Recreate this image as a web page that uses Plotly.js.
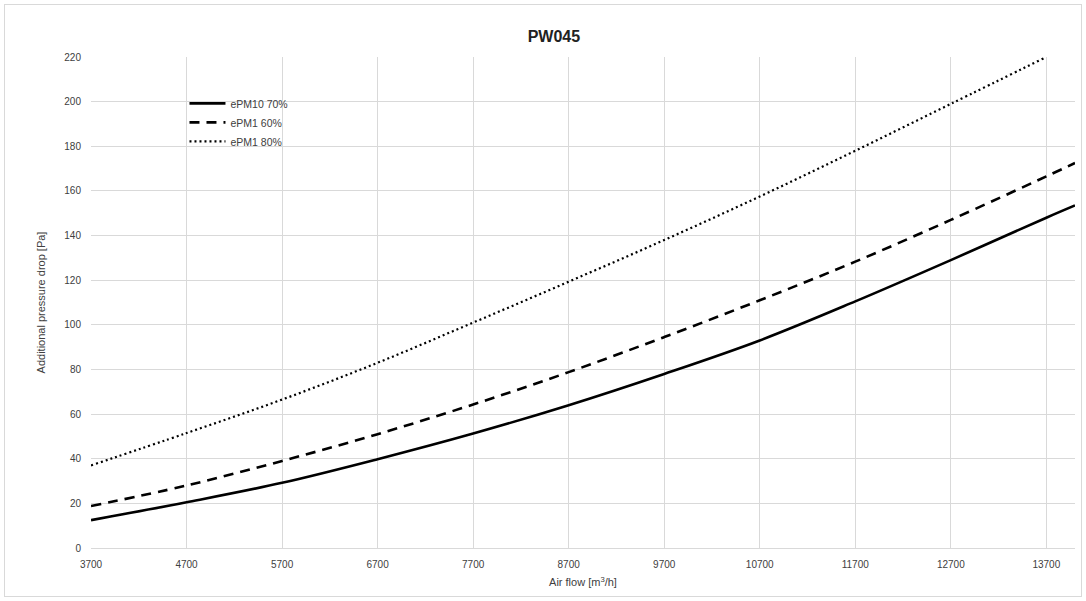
<!DOCTYPE html>
<html>
<head>
<meta charset="utf-8">
<script src="https://cdn.plot.ly/plotly-3.0.1.min.js"></script>
<style>
  html, body { margin: 0; padding: 0; background: #fff; }
  #chart { position: absolute; left: 0; top: 0; width: 1086px; height: 601px; }
  #frame { position: absolute; left: 4px; top: 4px; width: 1076px; height: 591px; border: 1px solid #d9d9d9; pointer-events: none; }
</style>
</head>
<body>
<div id="chart"></div>
<div id="frame"></div>
<script>
const airflow = [3700, 4700, 5700, 6700, 7700, 8700, 9700, 10700, 11700, 12700, 13700, 14000];
const airflowDotted = [3700, 4700, 5700, 6700, 7700, 8700, 9700, 10700, 11700, 12700, 13700];
const ePM10_70 = [12.5, 20.5, 29.2, 39.8, 51.3, 64, 78, 93, 110.5, 129, 148, 153.5];
const ePM1_60 = [18.8, 28, 39, 51, 64.3, 78.8, 94.5, 111, 128.3, 147, 166.5, 172.5];
const ePM1_80 = [37, 51.5, 66.5, 83, 101, 119.3, 138, 157.5, 178, 199, 220];
const seriesNames = ["ePM10 70%", "ePM1 60%", "ePM1 80%"];
const xTicks = [3700, 4700, 5700, 6700, 7700, 8700, 9700, 10700, 11700, 12700, 13700];
const yTicks = [0, 20, 40, 60, 80, 100, 120, 140, 160, 180, 200, 220];

const font = "Liberation Sans, Arial, sans-serif";

const traces = [
  { x: airflow, y: ePM10_70, name: seriesNames[0], mode: "lines",
    line: { color: "#000", width: 2.6, shape: "spline", dash: "solid" } },
  { x: airflow, y: ePM1_60, name: seriesNames[1], mode: "lines",
    line: { color: "#000", width: 2.6, shape: "spline", dash: "10px,7px" } },
  { x: airflowDotted, y: ePM1_80, name: seriesNames[2], mode: "lines",
    line: { color: "#000", width: 2.2, shape: "spline", dash: "2px,3px" } }
];

const layout = {
  width: 1086, height: 601,
  paper_bgcolor: "rgba(0,0,0,0)", plot_bgcolor: "#fff",
  margin: { l: 91, r: 11, t: 57, b: 53 },
  title: { text: "<b>PW045</b>", font: { family: font, size: 16, color: "#222" },
           x: 0.51, xanchor: "center", y: 0.94, yanchor: "middle" },
  showlegend: true,
  legend: { x: 0.095, y: 0.935, xanchor: "left", yanchor: "top",
            bgcolor: "rgba(0,0,0,0)", font: { family: font, size: 10.5, color: "#404040" },
            tracegroupgap: 0, itemwidth: 36, entrywidth: 110 },
  xaxis: {
    range: [3700, 14000], tickvals: xTicks, ticktext: xTicks.map(String),
    showgrid: true, gridcolor: "#d9d9d9", gridwidth: 1, zeroline: false,
    showline: true, linecolor: "#d9d9d9", linewidth: 1, ticks: "",
    ticklabelstandoff: 7,
    tickfont: { family: font, size: 10, color: "#404040" },
    title: { text: "Air flow [m<sup>3</sup>/h]", font: { family: font, size: 11, color: "#404040" }, standoff: 9 }
  },
  yaxis: {
    range: [0, 220], tickvals: yTicks, ticktext: yTicks.map(String),
    showgrid: true, gridcolor: "#d9d9d9", gridwidth: 1, zeroline: false,
    showline: false, ticks: "", ticklen: 0,
    ticklabelstandoff: 9,
    tickfont: { family: font, size: 10, color: "#404040" },
    title: { text: "Additional pressure drop [Pa]", font: { family: font, size: 11, color: "#404040" }, standoff: 16 }
  }
};

Plotly.newPlot("chart", traces, layout, { displayModeBar: false, staticPlot: true });
</script>
</body>
</html>
